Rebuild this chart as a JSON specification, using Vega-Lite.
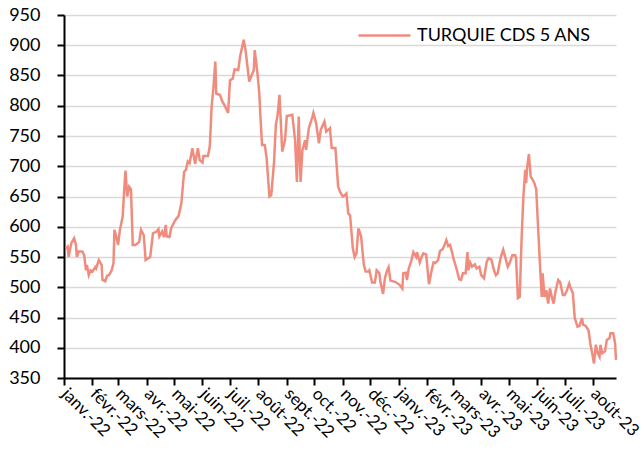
{
  "$schema": "https://vega.github.io/schema/vega-lite/v6.json",
  "autosize": "none",
  "width": 552,
  "height": 363,
  "padding": {"left": 64, "top": 15, "right": 28, "bottom": 81},
  "background": "white",
  "config": {
    "view": {"stroke": null},
    "font": "Lato",
    "axis": {"labelFont": "Lato", "labelFontSize": 18, "labelColor": "#000000", "titleFont": "Lato"},
    "legend": {"labelFont": "Lato"}
  },
  "data": {"values": [
    {"d":"2022-01-03","v":564},{"d":"2022-01-05","v":567},{"d":"2022-01-06","v":550},{"d":"2022-01-09","v":573},
    {"d":"2022-01-12","v":581},{"d":"2022-01-14","v":570},{"d":"2022-01-15","v":550},{"d":"2022-01-17","v":559},
    {"d":"2022-01-21","v":559},{"d":"2022-01-23","v":553},{"d":"2022-01-25","v":528},{"d":"2022-01-26","v":537},
    {"d":"2022-01-28","v":520},{"d":"2022-01-30","v":528},{"d":"2022-02-01","v":526},{"d":"2022-02-04","v":533},
    {"d":"2022-02-05","v":531},{"d":"2022-02-08","v":545},{"d":"2022-02-11","v":537},{"d":"2022-02-12","v":512},
    {"d":"2022-02-15","v":510},{"d":"2022-02-17","v":519},{"d":"2022-02-19","v":520},{"d":"2022-02-22","v":528},
    {"d":"2022-02-24","v":540},{"d":"2022-02-25","v":595},{"d":"2022-02-27","v":584},{"d":"2022-03-01","v":570},
    {"d":"2022-03-03","v":595},{"d":"2022-03-06","v":617},{"d":"2022-03-07","v":644},{"d":"2022-03-09","v":693},
    {"d":"2022-03-10","v":672},{"d":"2022-03-11","v":650},{"d":"2022-03-13","v":666},{"d":"2022-03-15","v":662},
    {"d":"2022-03-17","v":570},{"d":"2022-03-20","v":570},{"d":"2022-03-24","v":575},{"d":"2022-03-26","v":595},
    {"d":"2022-03-29","v":586},{"d":"2022-03-31","v":545},{"d":"2022-04-03","v":548},{"d":"2022-04-05","v":550},
    {"d":"2022-04-08","v":589},{"d":"2022-04-12","v":592},{"d":"2022-04-14","v":596},{"d":"2022-04-15","v":584},
    {"d":"2022-04-18","v":592},{"d":"2022-04-20","v":583},{"d":"2022-04-22","v":603},{"d":"2022-04-23","v":584},
    {"d":"2022-04-26","v":583},{"d":"2022-04-28","v":598},{"d":"2022-05-02","v":610},{"d":"2022-05-06","v":618},
    {"d":"2022-05-09","v":639},{"d":"2022-05-12","v":691},{"d":"2022-05-14","v":694},{"d":"2022-05-16","v":708},
    {"d":"2022-05-18","v":705},{"d":"2022-05-21","v":730},{"d":"2022-05-22","v":721},{"d":"2022-05-24","v":704},
    {"d":"2022-05-27","v":730},{"d":"2022-05-29","v":710},{"d":"2022-06-01","v":706},{"d":"2022-06-02","v":717},
    {"d":"2022-06-07","v":717},{"d":"2022-06-09","v":733},{"d":"2022-06-11","v":798},{"d":"2022-06-13","v":831},
    {"d":"2022-06-15","v":873},{"d":"2022-06-16","v":820},{"d":"2022-06-20","v":818},{"d":"2022-06-23","v":806},
    {"d":"2022-06-25","v":801},{"d":"2022-06-29","v":788},{"d":"2022-07-01","v":842},{"d":"2022-07-04","v":845},
    {"d":"2022-07-06","v":860},{"d":"2022-07-10","v":859},{"d":"2022-07-12","v":881},{"d":"2022-07-16","v":909},
    {"d":"2022-07-18","v":892},{"d":"2022-07-22","v":840},{"d":"2022-07-24","v":848},{"d":"2022-07-27","v":859},
    {"d":"2022-07-28","v":892},{"d":"2022-07-31","v":853},{"d":"2022-08-02","v":820},{"d":"2022-08-03","v":788},
    {"d":"2022-08-05","v":735},{"d":"2022-08-08","v":735},{"d":"2022-08-10","v":713},{"d":"2022-08-13","v":650},
    {"d":"2022-08-15","v":652},{"d":"2022-08-18","v":705},{"d":"2022-08-20","v":768},{"d":"2022-08-22","v":785},
    {"d":"2022-08-24","v":818},{"d":"2022-08-27","v":724},{"d":"2022-08-30","v":743},{"d":"2022-09-01","v":783},
    {"d":"2022-09-07","v":785},{"d":"2022-09-10","v":743},{"d":"2022-09-12","v":674},{"d":"2022-09-14","v":782},
    {"d":"2022-09-16","v":674},{"d":"2022-09-18","v":727},{"d":"2022-09-21","v":743},{"d":"2022-09-22","v":727},
    {"d":"2022-09-25","v":763},{"d":"2022-09-29","v":782},{"d":"2022-09-30","v":788},{"d":"2022-10-03","v":771},
    {"d":"2022-10-06","v":738},{"d":"2022-10-08","v":760},{"d":"2022-10-12","v":774},{"d":"2022-10-14","v":757},
    {"d":"2022-10-18","v":763},{"d":"2022-10-20","v":730},{"d":"2022-10-24","v":730},{"d":"2022-10-27","v":666},
    {"d":"2022-10-29","v":658},{"d":"2022-11-01","v":650},{"d":"2022-11-03","v":652},{"d":"2022-11-05","v":655},
    {"d":"2022-11-07","v":622},{"d":"2022-11-09","v":619},{"d":"2022-11-12","v":564},{"d":"2022-11-14","v":550},
    {"d":"2022-11-16","v":556},{"d":"2022-11-18","v":597},{"d":"2022-11-20","v":589},{"d":"2022-11-21","v":584},
    {"d":"2022-11-24","v":537},{"d":"2022-11-26","v":526},{"d":"2022-11-29","v":526},{"d":"2022-11-30","v":528},
    {"d":"2022-12-03","v":508},{"d":"2022-12-06","v":508},{"d":"2022-12-08","v":528},{"d":"2022-12-11","v":523},
    {"d":"2022-12-12","v":509},{"d":"2022-12-15","v":489},{"d":"2022-12-17","v":515},{"d":"2022-12-19","v":526},
    {"d":"2022-12-21","v":533},{"d":"2022-12-23","v":511},{"d":"2022-12-28","v":509},{"d":"2023-01-02","v":504},
    {"d":"2023-01-05","v":498},{"d":"2023-01-06","v":523},{"d":"2023-01-09","v":524},{"d":"2023-01-10","v":512},
    {"d":"2023-01-12","v":531},{"d":"2023-01-15","v":545},{"d":"2023-01-17","v":558},{"d":"2023-01-20","v":550},
    {"d":"2023-01-21","v":558},{"d":"2023-01-24","v":541},{"d":"2023-01-26","v":550},{"d":"2023-01-28","v":556},
    {"d":"2023-01-31","v":554},{"d":"2023-02-03","v":505},{"d":"2023-02-06","v":528},{"d":"2023-02-08","v":541},
    {"d":"2023-02-10","v":540},{"d":"2023-02-13","v":545},{"d":"2023-02-15","v":560},{"d":"2023-02-18","v":563},
    {"d":"2023-02-20","v":570},{"d":"2023-02-22","v":578},{"d":"2023-02-24","v":568},{"d":"2023-02-26","v":570},
    {"d":"2023-02-28","v":559},{"d":"2023-03-02","v":546},{"d":"2023-03-05","v":531},{"d":"2023-03-08","v":513},
    {"d":"2023-03-10","v":512},{"d":"2023-03-12","v":523},{"d":"2023-03-15","v":523},{"d":"2023-03-17","v":558},
    {"d":"2023-03-18","v":528},{"d":"2023-03-20","v":541},{"d":"2023-03-22","v":534},{"d":"2023-03-25","v":538},
    {"d":"2023-03-27","v":531},{"d":"2023-03-30","v":534},{"d":"2023-04-01","v":520},{"d":"2023-04-04","v":515},
    {"d":"2023-04-07","v":542},{"d":"2023-04-09","v":548},{"d":"2023-04-12","v":546},{"d":"2023-04-15","v":528},
    {"d":"2023-04-17","v":520},{"d":"2023-04-19","v":523},{"d":"2023-04-22","v":548},{"d":"2023-04-25","v":562},
    {"d":"2023-04-28","v":545},{"d":"2023-04-30","v":534},{"d":"2023-05-02","v":540},{"d":"2023-05-05","v":553},
    {"d":"2023-05-08","v":553},{"d":"2023-05-09","v":548},{"d":"2023-05-11","v":482},{"d":"2023-05-13","v":484},
    {"d":"2023-05-15","v":578},{"d":"2023-05-17","v":650},{"d":"2023-05-19","v":694},{"d":"2023-05-20","v":672},
    {"d":"2023-05-21","v":697},{"d":"2023-05-23","v":720},{"d":"2023-05-25","v":683},{"d":"2023-05-27","v":678},
    {"d":"2023-05-29","v":672},{"d":"2023-05-31","v":662},{"d":"2023-06-02","v":600},{"d":"2023-06-04","v":540},
    {"d":"2023-06-06","v":484},{"d":"2023-06-07","v":523},{"d":"2023-06-09","v":484},{"d":"2023-06-11","v":495},
    {"d":"2023-06-13","v":473},{"d":"2023-06-15","v":498},{"d":"2023-06-17","v":484},{"d":"2023-06-19","v":473},
    {"d":"2023-06-21","v":493},{"d":"2023-06-24","v":512},{"d":"2023-06-26","v":509},{"d":"2023-06-29","v":487},
    {"d":"2023-07-01","v":487},{"d":"2023-07-03","v":493},{"d":"2023-07-06","v":506},{"d":"2023-07-07","v":501},
    {"d":"2023-07-10","v":490},{"d":"2023-07-12","v":449},{"d":"2023-07-15","v":435},{"d":"2023-07-17","v":436},
    {"d":"2023-07-20","v":449},{"d":"2023-07-21","v":438},{"d":"2023-07-24","v":436},{"d":"2023-07-27","v":429},
    {"d":"2023-07-29","v":407},{"d":"2023-07-31","v":391},{"d":"2023-08-02","v":374},{"d":"2023-08-04","v":405},
    {"d":"2023-08-06","v":391},{"d":"2023-08-08","v":385},{"d":"2023-08-09","v":405},{"d":"2023-08-11","v":391},
    {"d":"2023-08-14","v":394},{"d":"2023-08-16","v":413},{"d":"2023-08-19","v":416},{"d":"2023-08-20","v":424},
    {"d":"2023-08-23","v":424},{"d":"2023-08-25","v":407},{"d":"2023-08-26","v":380}
  ]},
  "mark": {"type": "line", "strokeWidth": 2.5, "interpolate": "linear"},
  "encoding": {
    "x": {
      "field": "d",
      "type": "temporal",
      "scale": {"type": "utc", "domain": [{"year": 2022, "month": 1, "date": 1, "utc": true}, {"year": 2023, "month": 8, "date": 26, "utc": true}], "nice": false},
      "axis": {
        "title": null,
        "grid": false,
        "tickCount": {"interval": "month", "step": 1},
        "labelExpr": "['janv.','févr.','mars','avr.','mai','juin','juil.','août','sept.','oct.','nov.','déc.'][utcmonth(datum.value)] + '-' + utcFormat(datum.value, '%y')",
        "labelAngle": 45,
        "labelAlign": "left",
        "labelBaseline": "middle",
        "labelPadding": 6,
        "labelFontSize": 17,
        "labelOverlap": false,
        "labelFlush": false,
        "domainColor": "#000000",
        "domainWidth": 2,
        "tickColor": "#000000",
        "tickWidth": 2,
        "tickSize": 7
      }
    },
    "y": {
      "field": "v",
      "type": "quantitative",
      "scale": {"domain": [350, 950], "nice": false, "zero": false},
      "axis": {
        "title": null,
        "values": [350, 400, 450, 500, 550, 600, 650, 700, 750, 800, 850, 900, 950],
        "grid": true,
        "gridColor": "#d9d9d9",
        "gridWidth": 1.5,
        "domainColor": "#000000",
        "domainWidth": 2,
        "tickColor": "#000000",
        "tickWidth": 2,
        "tickSize": 7,
        "labelPadding": 17
      }
    },
    "color": {
      "datum": "TURQUIE CDS 5 ANS",
      "scale": {"range": ["#F08C7E"]},
      "legend": {
        "title": null,
        "orient": "none",
        "legendX": 293,
        "legendY": -7,
        "symbolType": "stroke",
        "symbolSize": 2704,
        "symbolStrokeWidth": 2.5,
        "labelFontSize": 18,
        "labelLimit": 0,
        "labelColor": "#000000",
        "labelOffset": 5,
        "padding": 0
      }
    }
  }
}
